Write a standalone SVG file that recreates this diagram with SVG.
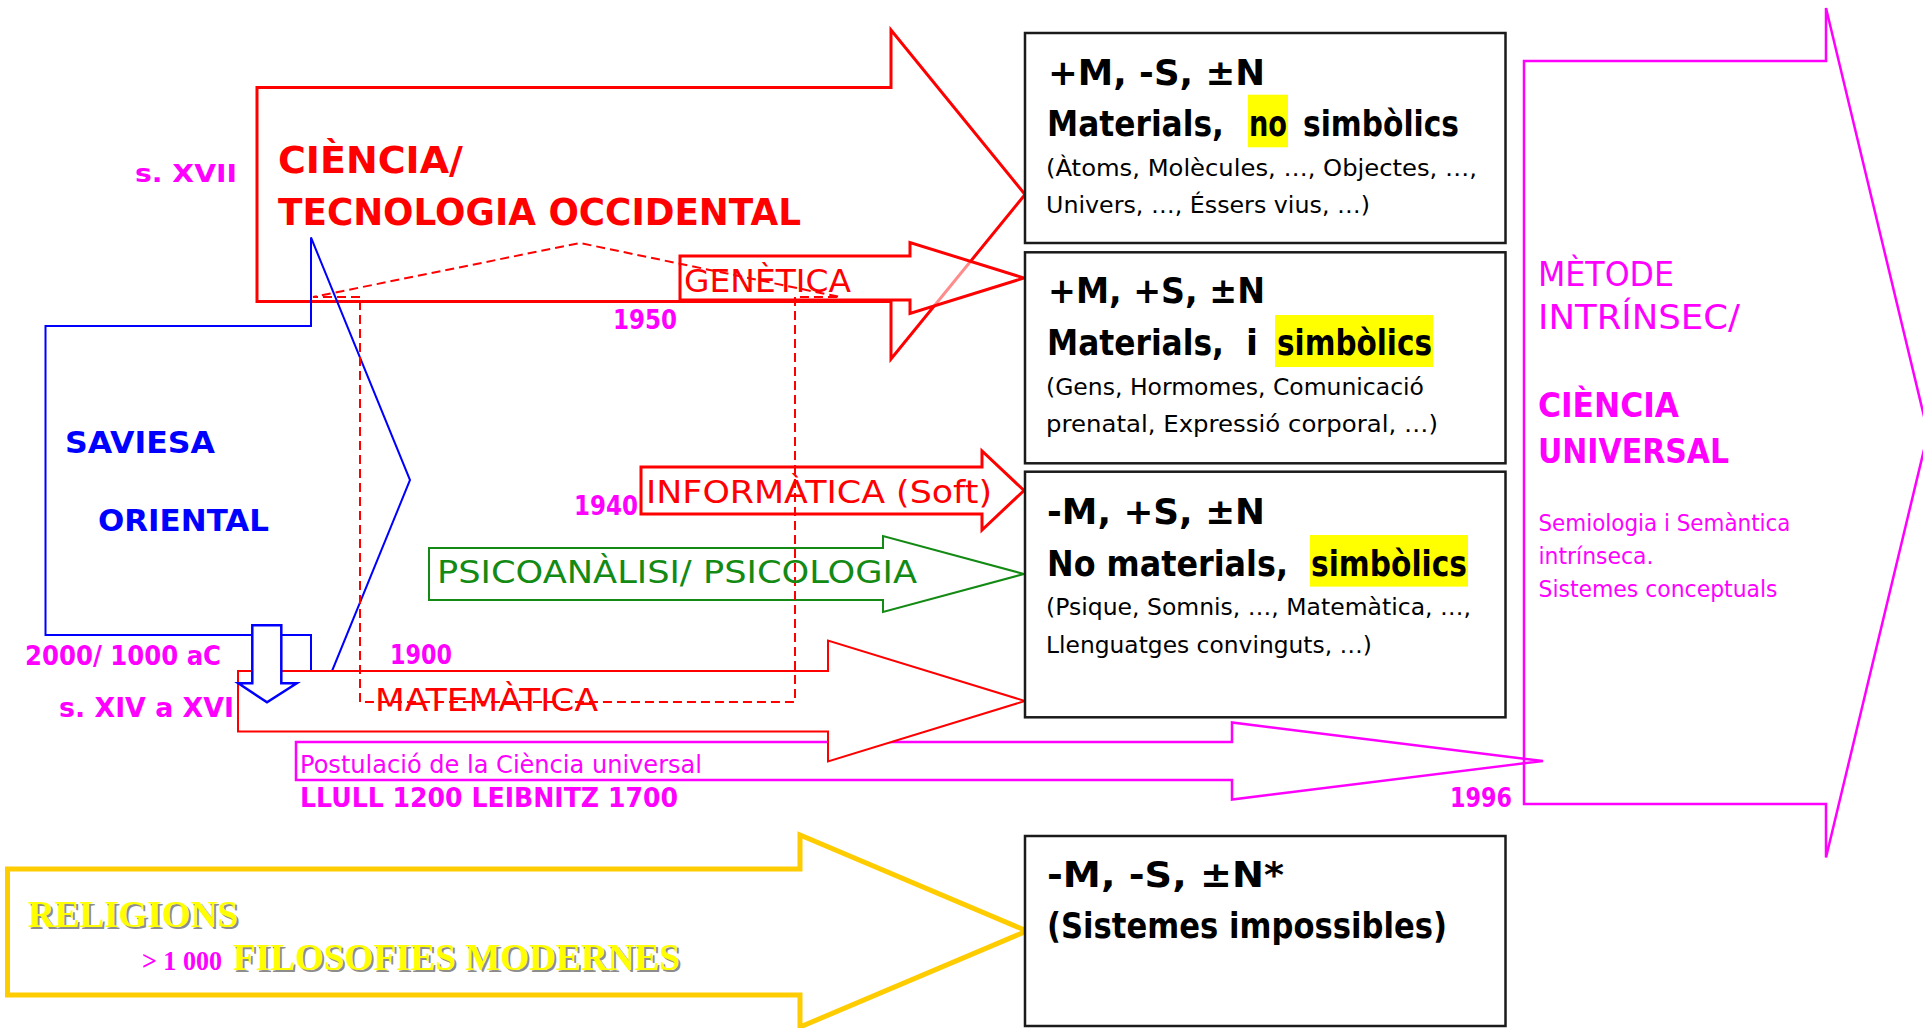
<svg xmlns="http://www.w3.org/2000/svg" width="1923" height="1028" viewBox="0 0 1923 1028">
  <style>
    .cb { font-family: "DejaVu Sans", "Noto Sans", sans-serif; font-weight: bold; }
    .cr { font-family: "DejaVu Sans", "Noto Sans", sans-serif; font-weight: normal; }
    .tb { font-family: "Liberation Serif", serif; font-weight: bold; }
    .red { fill: #FF0000; }
    .mag { fill: #FF00FF; }
    .blu { fill: #0000FF; }
    .grn { fill: #138A13; }
    .blk { fill: #000000; }
    .arw { stroke-linejoin: miter; }
    .box { fill: #FFFFFF; stroke: #1A1A1A; stroke-width: 2.5; }
    .hl { fill: #FFFF00; }
    .dash { fill: none; stroke: #FF0000; stroke-width: 2; stroke-dasharray: 9 5; }
  </style>

  <!-- block arrows drawn back to front -->
  <g id="connectors">
    <path id="arrow-postulacio" class="arw" d="M296,742 H1232 V722.5 L1543,761 L1232,799.5 V780 H296 Z" fill="none" stroke="#FF00FF" stroke-width="2.5"/>
    <path id="arrow-metode" class="arw" d="M1524,61 H1826 V8 L1928,433 L1826,857.5 V804 H1524 Z" fill="none" stroke="#FF00FF" stroke-width="2.5"/>
    <path id="arrow-ciencia" class="arw" d="M257,87.5 H891 V30 L1025,194.5 L891,359 V301.5 H257 Z" fill="#FFFFFF" stroke="#FF0000" stroke-width="3"/>
    <path id="arrow-genetica" class="arw" d="M680,256 H910 V242.5 L1024,278 L910,313.5 V300 H680 Z" fill="#FFFFFF" fill-opacity="0.55" stroke="#FF0000" stroke-width="3"/>
    <path id="arrow-saviesa" class="arw" d="M45.5,326 H311 V237.5 L410,480 L311,722.5 V635 H45.5 Z" fill="none" stroke="#0000FF" stroke-width="2"/>
    <path id="arrow-informatica" class="arw" d="M641,467 H982 V451 L1024,490.5 L982,530 V514 H641 Z" fill="#FFFFFF" stroke="#FF0000" stroke-width="3"/>
    <path id="arrow-psico" class="arw" d="M429,548 H883 V536 L1024,574 L883,612 V600 H429 Z" fill="#FFFFFF" stroke="#138A13" stroke-width="2"/>
    <path id="arrow-matematica" class="arw" d="M238,671 H828 V640.5 L1025,701 L828,761.5 V731.5 H238 Z" fill="#FFFFFF" stroke="#FF0000" stroke-width="2"/>
    <path id="arrow-down" class="arw" d="M252.3,625.3 H281.3 V683.3 H296.7 L267,702.3 L238.3,683.3 H252.3 Z" fill="#FFFFFF" stroke="#0000FF" stroke-width="2.5"/>
    <path id="arrow-religions" class="arw" d="M7.5,869 H800 V835 L1027,931 L800,1027 V995 H7.5 Z" fill="#FFFFFF" stroke="#FFCC00" stroke-width="5"/>
  </g>

  <!-- category boxes -->
  <g id="box-mat-nosimb">
    <rect class="box" x="1025" y="33" width="480.5" height="210"/>
    <rect class="hl" x="1248" y="94.7" width="40" height="52.6"/>
    <text class="cb blk" x="1048" y="85" font-size="35" textLength="217" lengthAdjust="spacingAndGlyphs">+M,  -S,  ±N</text>
    <text class="cb blk" x="1047" y="136" font-size="35" textLength="177" lengthAdjust="spacingAndGlyphs">Materials,</text>
    <text class="cb blk" x="1249" y="136" font-size="35" textLength="38" lengthAdjust="spacingAndGlyphs">no</text>
    <text class="cb blk" x="1303" y="136" font-size="35" textLength="156" lengthAdjust="spacingAndGlyphs">simbòlics</text>
    <text class="cr blk" x="1046" y="176.3" font-size="23" textLength="431" lengthAdjust="spacingAndGlyphs">(Àtoms, Molècules, …, Objectes, …,</text>
    <text class="cr blk" x="1046" y="213" font-size="23" textLength="324" lengthAdjust="spacingAndGlyphs">Univers, …, Éssers vius, …)</text>
  </g>

  <g id="box-mat-simb">
    <rect class="box" x="1025" y="252.3" width="480.5" height="211"/>
    <rect class="hl" x="1275" y="315" width="158" height="52"/>
    <text class="cb blk" x="1048" y="303.3" font-size="35" textLength="217" lengthAdjust="spacingAndGlyphs">+M,  +S,  ±N</text>
    <text class="cb blk" x="1047" y="355" font-size="35" textLength="177" lengthAdjust="spacingAndGlyphs">Materials,</text>
    <text class="cb blk" x="1246" y="355" font-size="35">i</text>
    <text class="cb blk" x="1277" y="355" font-size="35" textLength="155" lengthAdjust="spacingAndGlyphs">simbòlics</text>
    <text class="cr blk" x="1046" y="395" font-size="23" textLength="378" lengthAdjust="spacingAndGlyphs">(Gens, Hormomes, Comunicació</text>
    <text class="cr blk" x="1046" y="432" font-size="23" textLength="392" lengthAdjust="spacingAndGlyphs">prenatal, Expressió corporal, …)</text>
  </g>

  <g id="box-nomat-simb">
    <rect class="box" x="1025" y="471.7" width="480.5" height="245.6"/>
    <rect class="hl" x="1310" y="535" width="158" height="51.6"/>
    <text class="cb blk" x="1047" y="523.7" font-size="35" textLength="218" lengthAdjust="spacingAndGlyphs">-M,  +S,  ±N</text>
    <text class="cb blk" x="1047" y="576" font-size="35" textLength="241" lengthAdjust="spacingAndGlyphs">No materials,</text>
    <text class="cb blk" x="1311" y="576" font-size="35" textLength="156" lengthAdjust="spacingAndGlyphs">simbòlics</text>
    <text class="cr blk" x="1046" y="614.6" font-size="23" textLength="425" lengthAdjust="spacingAndGlyphs">(Psique, Somnis, …, Matemàtica, …,</text>
    <text class="cr blk" x="1046" y="653" font-size="23" textLength="326" lengthAdjust="spacingAndGlyphs">Llenguatges convinguts, …)</text>
  </g>

  <g id="box-impossibles">
    <rect class="box" x="1025" y="836" width="480.5" height="190"/>
    <text class="cb blk" x="1047" y="887" font-size="35" textLength="237" lengthAdjust="spacingAndGlyphs">-M,  -S,  ±N*</text>
    <text class="cb blk" x="1047" y="938" font-size="35" textLength="400" lengthAdjust="spacingAndGlyphs">(Sistemes impossibles)</text>
  </g>

  <!-- dashed outline spanning the 1900-1950 period -->
  <g id="dashed-frame">
    <path class="dash" d="M360,297 H313 L580,243 L840,297 H795 V702 H360 Z"/>
  </g>

  <!-- arrow labels and dates -->
  <g id="node-ciencia">
    <text class="cb red" x="278" y="173" font-size="37" textLength="185" lengthAdjust="spacingAndGlyphs">CIÈNCIA/</text>
    <text class="cb red" x="278" y="225" font-size="37" textLength="523" lengthAdjust="spacingAndGlyphs">TECNOLOGIA OCCIDENTAL</text>
    <text class="cb mag" x="135" y="182" font-size="25" textLength="102" lengthAdjust="spacingAndGlyphs">s. XVII</text>
  </g>

  <g id="node-genetica">
    <text class="cr red" x="684" y="292" font-size="32" textLength="167" lengthAdjust="spacingAndGlyphs">GENÈTICA</text>
    <text class="cb mag" x="613" y="329" font-size="26" textLength="64" lengthAdjust="spacingAndGlyphs">1950</text>
  </g>

  <g id="node-saviesa">
    <text class="cb blu" x="65" y="453" font-size="30" textLength="150" lengthAdjust="spacingAndGlyphs">SAVIESA</text>
    <text class="cb blu" x="98" y="531" font-size="30" textLength="171" lengthAdjust="spacingAndGlyphs">ORIENTAL</text>
    <text class="cb mag" x="25" y="665" font-size="26" textLength="196" lengthAdjust="spacingAndGlyphs">2000/ 1000 aC</text>
  </g>

  <g id="node-informatica">
    <text class="cr red" x="646" y="503" font-size="32" textLength="346" lengthAdjust="spacingAndGlyphs">INFORMÀTICA (Soft)</text>
    <text class="cb mag" x="574" y="515" font-size="26" textLength="64" lengthAdjust="spacingAndGlyphs">1940</text>
  </g>

  <g id="node-psico">
    <text class="cr grn" x="437" y="583" font-size="32" textLength="480" lengthAdjust="spacingAndGlyphs">PSICOANÀLISI/ PSICOLOGIA</text>
  </g>

  <g id="node-matematica">
    <text class="cr red" x="375" y="711" font-size="32" textLength="223" lengthAdjust="spacingAndGlyphs">MATEMÀTICA</text>
    <text class="cb mag" x="390" y="664" font-size="26" textLength="62" lengthAdjust="spacingAndGlyphs">1900</text>
    <text class="cb mag" x="59" y="717" font-size="26" textLength="175" lengthAdjust="spacingAndGlyphs">s. XIV a XVI</text>
  </g>

  <g id="node-postulacio">
    <text class="cr mag" x="300" y="773" font-size="25" textLength="402" lengthAdjust="spacingAndGlyphs">Postulació de la Ciència universal</text>
    <text class="cb mag" x="300" y="807" font-size="26" textLength="378" lengthAdjust="spacingAndGlyphs">LLULL 1200 LEIBNITZ 1700</text>
    <text class="cb mag" x="1450" y="807" font-size="26" textLength="62" lengthAdjust="spacingAndGlyphs">1996</text>
  </g>

  <g id="node-metode">
    <text class="cr mag" x="1538" y="285.7" font-size="34" textLength="136" lengthAdjust="spacingAndGlyphs">MÈTODE</text>
    <text class="cr mag" x="1538" y="329.3" font-size="34" textLength="202" lengthAdjust="spacingAndGlyphs">INTRÍNSEC/</text>
    <text class="cb mag" x="1538" y="417.3" font-size="34" textLength="141" lengthAdjust="spacingAndGlyphs">CIÈNCIA</text>
    <text class="cb mag" x="1538" y="462.7" font-size="34" textLength="191" lengthAdjust="spacingAndGlyphs">UNIVERSAL</text>
    <text class="cr mag" x="1538.5" y="531" font-size="23" textLength="252" lengthAdjust="spacingAndGlyphs">Semiologia i Semàntica</text>
    <text class="cr mag" x="1538.5" y="564" font-size="23" textLength="115" lengthAdjust="spacingAndGlyphs">intrínseca.</text>
    <text class="cr mag" x="1538.5" y="597" font-size="23" textLength="239" lengthAdjust="spacingAndGlyphs">Sistemes conceptuals</text>
  </g>

  <g id="node-religions">
    <text class="tb" x="30" y="929" font-size="38" fill="#8C8C8C" textLength="210" lengthAdjust="spacingAndGlyphs">RELIGIONS</text>
    <text class="tb" x="28" y="927" font-size="38" fill="#FFFF00" textLength="210" lengthAdjust="spacingAndGlyphs">RELIGIONS</text>
    <text class="tb mag" x="142" y="970" font-size="28" textLength="80" lengthAdjust="spacingAndGlyphs">&gt; 1 000</text>
    <text class="tb" x="235" y="972" font-size="38" fill="#8C8C8C" textLength="447" lengthAdjust="spacingAndGlyphs">FILOSOFIES MODERNES</text>
    <text class="tb" x="233" y="970" font-size="38" fill="#FFFF00" textLength="447" lengthAdjust="spacingAndGlyphs">FILOSOFIES MODERNES</text>
  </g>
</svg>
